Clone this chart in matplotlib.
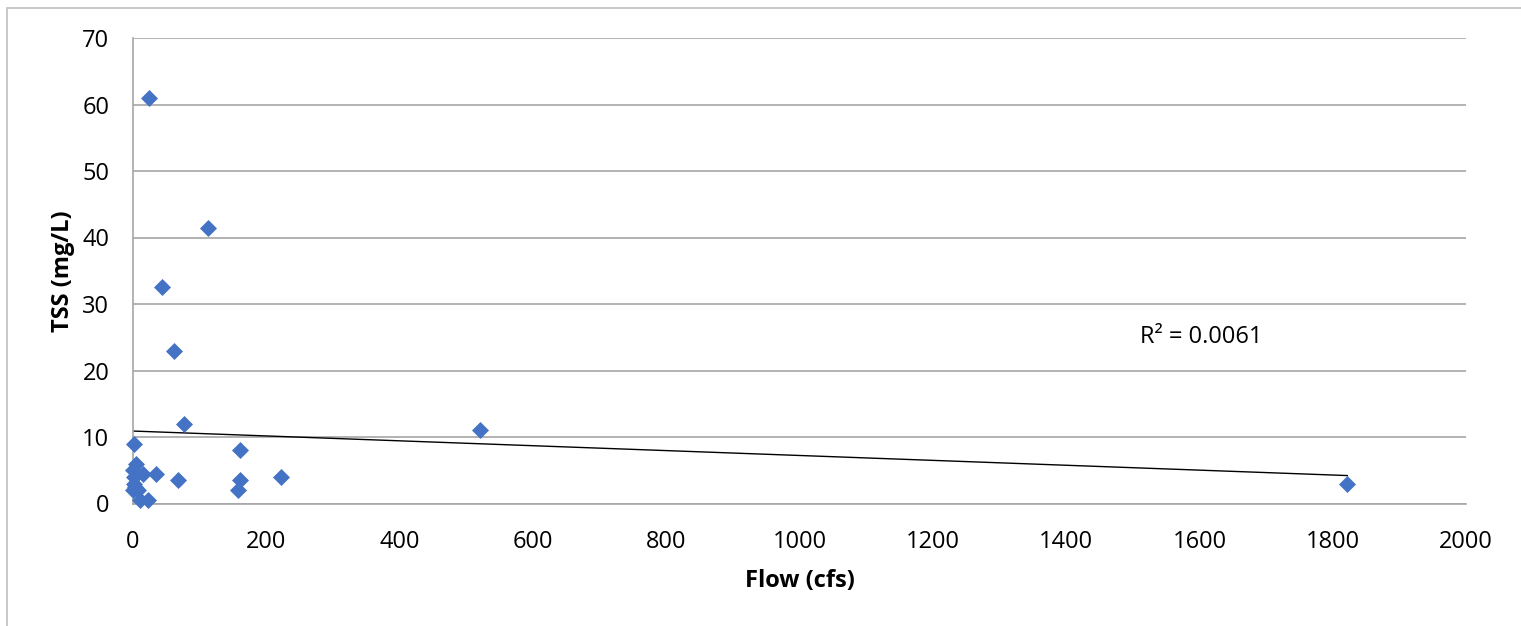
import numpy as np
import matplotlib
matplotlib.use("Agg")
import matplotlib.pyplot as plt
from matplotlib.patches import Rectangle

flow = [24, 113, 44, 61, 77, 1.5, 521, 160, 5, 0.5, 15, 35, 1, 67, 160, 222,
        1, 0.5, 8, 10, 22, 158, 1822, 3]
tss = [61, 41.5, 32.5, 23, 12, 9, 11, 8, 6, 5, 4.5, 4.5, 4, 3.5, 3.5, 4,
       3, 2, 2, 0.5, 0.5, 2, 3, 2.5]
x_ticks = [0, 200, 400, 600, 800, 1000, 1200, 1400, 1600, 1800, 2000]
y_ticks = [0, 10, 20, 30, 40, 50, 60, 70]
r2_label = "R² = 0.0061"

plt.rcParams['font.family'] = ['Open Sans', 'DejaVu Sans']

W, H = 1521, 626
fig = plt.figure(figsize=(W / 100, H / 100), dpi=100)
fig.patches.append(Rectangle((7 / W, -0.1), 1.2, 1 - 8 / H + 0.1,
                             transform=fig.transFigure, fill=False,
                             edgecolor='#bfbfbf', linewidth=1.2))

ax = fig.add_axes([133 / W, 1 - 503.5 / H, (1466 - 133) / W, (503.5 - 38) / H])
ax.set_xlim(0, 2000)
ax.set_ylim(0, 70)
ax.set_xticks(x_ticks)
ax.set_yticks(y_ticks)
ax.tick_params(axis='x', length=0, labelsize=17, pad=19)
ax.tick_params(axis='y', length=0, labelsize=17, pad=17)
ax.grid(axis='y', color='#a6a6a6', linewidth=1.2)
ax.set_axisbelow(True)
for s in ['top', 'right']:
    ax.spines[s].set_visible(False)
for s in ['left', 'bottom']:
    ax.spines[s].set_color('#a6a6a6')
    ax.spines[s].set_linewidth(1.2)

ax.scatter(flow, tss, marker='D', s=75, color='#4472C4', zorder=3,
           linewidths=0, clip_on=False)

fx = np.array(flow, dtype=float)
fy = np.array(tss, dtype=float)
m, b = np.polyfit(fx, fy, 1)
xs = np.array([fx.min(), fx.max()])
ax.plot(xs, m * xs + b, color='black', linewidth=1.0, zorder=2)

ax.text(1511, 25, r2_label, fontsize=17, va='center', ha='left')

ax.set_xlabel('Flow (cfs)', fontsize=17, fontweight='bold', labelpad=11)
ax.set_ylabel('TSS (mg/L)', fontsize=17, fontweight='bold', labelpad=5)

fig.savefig('out.png', dpi=100)
